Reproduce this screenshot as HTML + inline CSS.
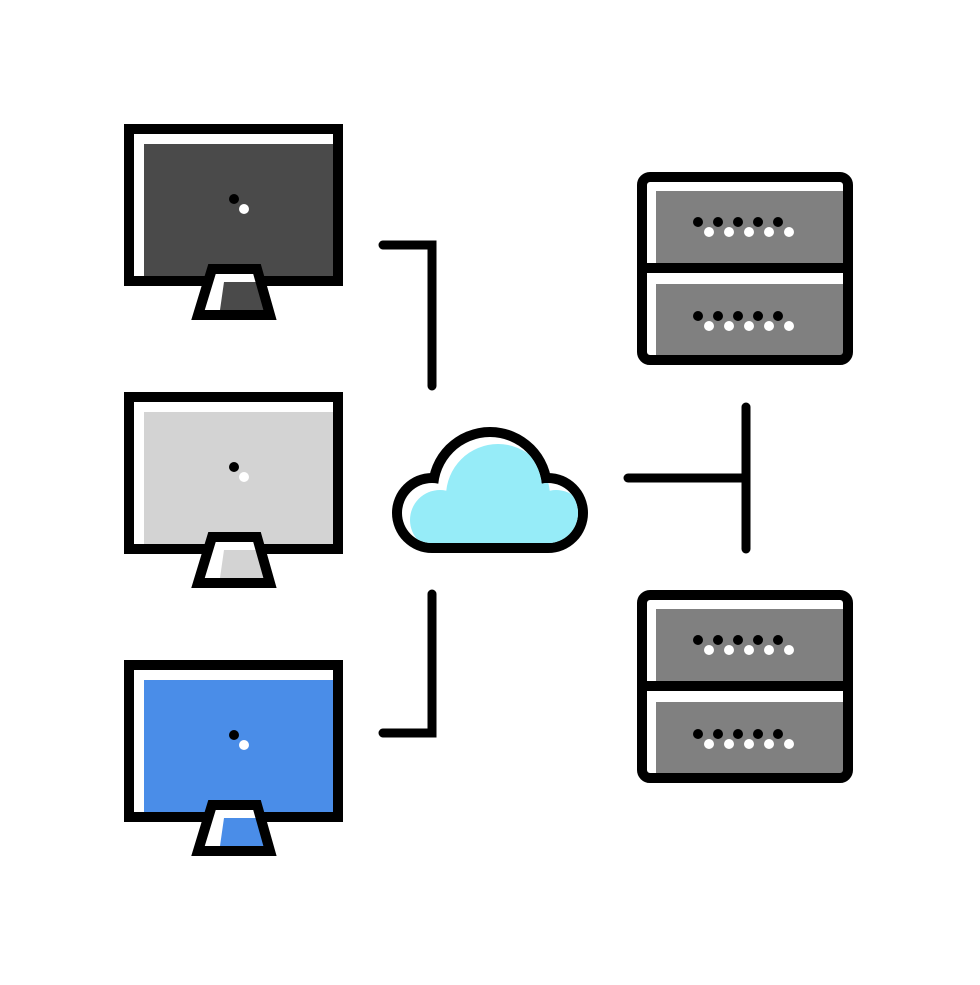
<!DOCTYPE html>
<html><head><meta charset="utf-8"><style>html,body{margin:0;padding:0;background:#fff}</style></head>
<body>
<svg width="980" height="980" viewBox="0 0 980 980" xmlns="http://www.w3.org/2000/svg">
<defs>
<g id="mon">
  <rect x="144" y="144" width="192" height="133" fill="var(--c)"/>
  <rect x="129" y="129" width="209" height="152" fill="none" stroke="#000" stroke-width="10"/>
  <polygon points="212,269 257,269 270,315 198,315" fill="#fff"/>
  <polygon points="224,282 258,282 265,310 220,310" fill="var(--c)"/>
  <polygon points="212,269 257,269 270,315 198,315" fill="none" stroke="#000" stroke-width="10" stroke-linejoin="miter"/>
  <circle cx="234" cy="199" r="5" fill="#000"/>
  <circle cx="244" cy="209" r="5" fill="#fff"/>
</g>
<g id="dots">
  <circle cx="698" cy="0" r="5" fill="#000"/><circle cx="718" cy="0" r="5" fill="#000"/><circle cx="738" cy="0" r="5" fill="#000"/><circle cx="758" cy="0" r="5" fill="#000"/><circle cx="778" cy="0" r="5" fill="#000"/>
  <circle cx="709" cy="10" r="5" fill="#fff"/><circle cx="729" cy="10" r="5" fill="#fff"/><circle cx="749" cy="10" r="5" fill="#fff"/><circle cx="769" cy="10" r="5" fill="#fff"/><circle cx="789" cy="10" r="5" fill="#fff"/>
</g>
<g id="srv">
  <rect x="656" y="191" width="192" height="72" fill="#808080"/>
  <rect x="656" y="284" width="192" height="74" fill="#808080"/>
  <rect x="642" y="177" width="206" height="183" rx="8" fill="none" stroke="#000" stroke-width="10"/>
  <line x1="637" y1="268" x2="853" y2="268" stroke="#000" stroke-width="10"/>
  <use href="#dots" y="222"/>
  <use href="#dots" y="316"/>
</g>
<clipPath id="cc">
  <circle cx="490" cy="489" r="52"/>
  <circle cx="432" cy="513" r="30"/>
  <circle cx="548" cy="513" r="30"/>
  <rect x="432" y="500" width="116" height="43"/>
</clipPath>
</defs>
<use href="#mon" style="--c:#4a4a4a"/>
<use href="#mon" y="268" style="--c:#d3d3d3"/>
<use href="#mon" y="536" style="--c:#4a8de8"/>
<use href="#srv"/>
<use href="#srv" y="418"/>
<g stroke="#000" stroke-width="9" fill="none" stroke-linecap="round">
  <polyline points="383,245 432,245 432,386"/>
  <polyline points="432,594 432,733 383,733"/>
  <line x1="628" y1="478" x2="746" y2="478"/>
  <line x1="746" y1="407" x2="746" y2="549"/>
</g>
<g fill="#000">
  <circle cx="490" cy="489" r="62"/>
  <circle cx="432" cy="513" r="40"/>
  <circle cx="548" cy="513" r="40"/>
  <rect x="432" y="500" width="116" height="53"/>
</g>
<g fill="#fff">
  <circle cx="490" cy="489" r="52"/>
  <circle cx="432" cy="513" r="30"/>
  <circle cx="548" cy="513" r="30"/>
  <rect x="432" y="500" width="116" height="43"/>
</g>
<g clip-path="url(#cc)"><g fill="#96ecf8" transform="translate(8,7)">
  <circle cx="490" cy="489" r="52"/>
  <circle cx="432" cy="513" r="30"/>
  <circle cx="548" cy="513" r="30"/>
  <rect x="432" y="500" width="116" height="43"/>
</g></g>
</svg>
</body></html>
